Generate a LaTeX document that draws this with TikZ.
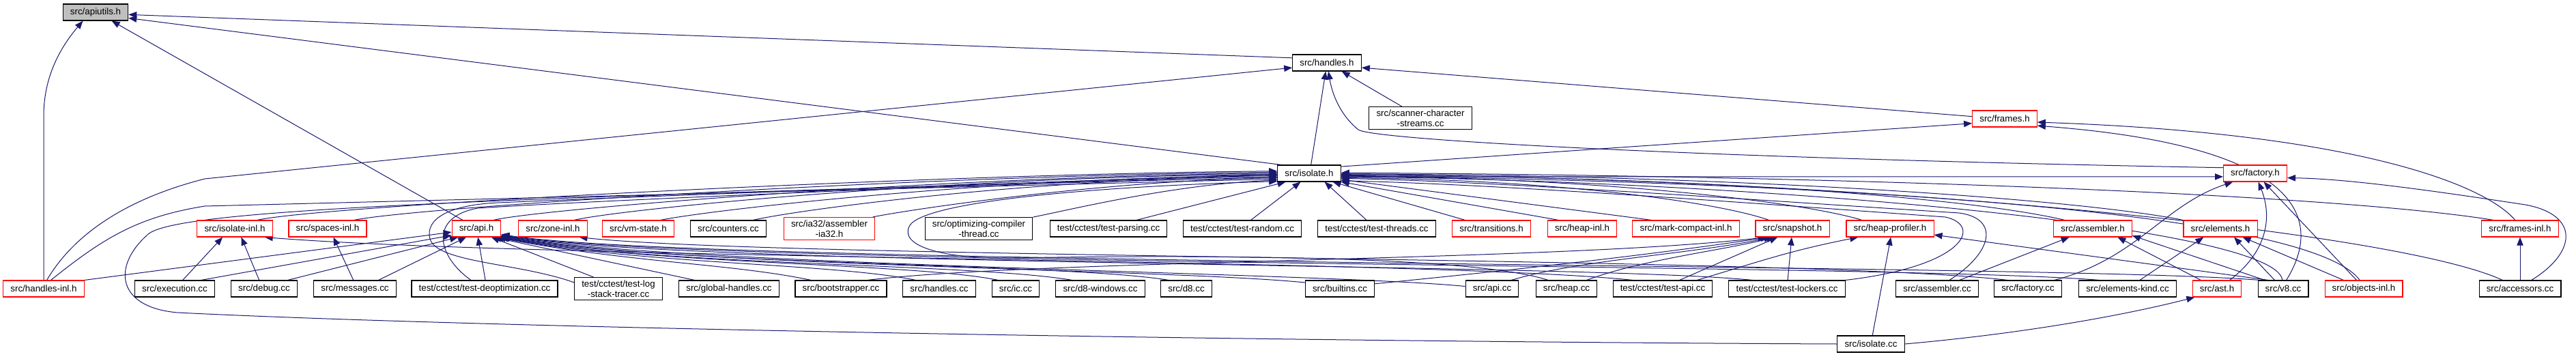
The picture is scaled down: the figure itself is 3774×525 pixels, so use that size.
\documentclass[tikz,border=0pt]{standalone}
\usepackage{fontspec}
\setsansfont{Liberation Sans}
\usetikzlibrary{arrows.meta,backgrounds}
\definecolor{incInk}{HTML}{000000}
\definecolor{incRed}{HTML}{FF0000}
\definecolor{incEdge}{HTML}{191970}
\definecolor{incRoot}{HTML}{BFBFBF}
\tikzset{
  every picture/.style={font=\sffamily\fontsize{10}{11.5}\selectfont, text=incInk},
  inc box/.style={draw=incInk, line width=0.8pt, fill=white, align=center,
    minimum height=18pt, inner xsep=8pt, inner ysep=3pt},
  inc trunc/.style={inc box, draw=incRed},
  inc root/.style={inc box, fill=incRoot},
  inc edge/.style={draw=incEdge, line width=0.75pt,
    -{Triangle[length=9pt,width=7pt]}}
}

\begin{document}
\begin{tikzpicture}[x=0.75pt,y=-0.75pt]
  \useasboundingbox (0,0) rectangle (3774,525);
  \node[inc root] (apiutils) at (140,18) {src/apiutils.h};
  \node[inc box] (handles) at (1944,92) {src/handles.h};
  \node[inc box] (scanner) at (2081,173) {src/scanner-character\\-streams.cc};
  \node[inc trunc] (frames) at (2937,174) {src/frames.h};
  \node[inc box] (isolate) at (1918,254) {src/isolate.h};
  \node[inc trunc] (factory) at (3304,254) {src/factory.h};

  \node[inc trunc] (isolateinl) at (344,335) {src/isolate-inl.h};
  \node[inc trunc] (spacesinl) at (480,335) {src/spaces-inl.h};
  \node[inc trunc] (apih) at (698,335) {src/api.h};
  \node[inc trunc] (zoneinl) at (810,335) {src/zone-inl.h};
  \node[inc trunc] (vmstate) at (935,335) {src/vm-state.h};
  \node[inc box] (counters) at (1067,335) {src/counters.cc};
  \node[inc trunc] (ia32asm) at (1215,335) {src/ia32/assembler\\-ia32.h};
  \node[inc box] (optcomp) at (1434,335) {src/optimizing-compiler\\-thread.cc};
  \node[inc box] (testparsing) at (1624,335) {test/cctest/test-parsing.cc};
  \node[inc box] (testrandom) at (1820,335) {test/cctest/test-random.cc};
  \node[inc box] (testthreads) at (2017,335) {test/cctest/test-threads.cc};
  \node[inc trunc] (transitions) at (2185,335) {src/transitions.h};
  \node[inc trunc] (heapinl) at (2318,335) {src/heap-inl.h};
  \node[inc trunc] (markcompact) at (2470,335) {src/mark-compact-inl.h};
  \node[inc trunc] (snapshot) at (2626,335) {src/snapshot.h};
  \node[inc trunc] (heapprofiler) at (2769,335) {src/heap-profiler.h};
  \node[inc trunc] (assemblerh) at (3066,335) {src/assembler.h};
  \node[inc trunc] (elementsh) at (3253,335) {src/elements.h};
  \node[inc trunc] (framesinl) at (3692,335) {src/frames-inl.h};

  \node[inc trunc] (handlesinl) at (64,423) {src/handles-inl.h};
  \node[inc box] (execution) at (256,423) {src/execution.cc};
  \node[inc box] (debug) at (387,423) {src/debug.cc};
  \node[inc box] (messages) at (520,423) {src/messages.cc};
  \node[inc box] (testdeopt) at (710,423) {test/cctest/test-deoptimization.cc};
  \node[inc box] (testlog) at (906,423) {test/cctest/test-log\\-stack-tracer.cc};
  \node[inc box] (globalhandles) at (1068,423) {src/global-handles.cc};
  \node[inc box] (bootstrapper) at (1232,423) {src/bootstrapper.cc};
  \node[inc box] (handlescc) at (1376,423) {src/handles.cc};
  \node[inc box] (iccc) at (1488,423) {src/ic.cc};
  \node[inc box] (d8win) at (1612,423) {src/d8-windows.cc};
  \node[inc box] (d8cc) at (1738,423) {src/d8.cc};
  \node[inc box] (builtins) at (1963,423) {src/builtins.cc};
  \node[inc box] (apicc) at (2186,423) {src/api.cc};
  \node[inc box] (heapcc) at (2295,423) {src/heap.cc};
  \node[inc box] (testapi) at (2436,423) {test/cctest/test-api.cc};
  \node[inc box] (testlockers) at (2618,423) {test/cctest/test-lockers.cc};
  \node[inc box] (assemblercc) at (2838,423) {src/assembler.cc};
  \node[inc box] (factorycc) at (2971,423) {src/factory.cc};
  \node[inc box] (elementskind) at (3117,423) {src/elements-kind.cc};
  \node[inc trunc] (asth) at (3248,423) {src/ast.h};
  \node[inc box] (v8cc) at (3345,423) {src/v8.cc};
  \node[inc trunc] (objectsinl) at (3463,423) {src/objects-inl.h};
  \node[inc box] (accessors) at (3692,423) {src/accessors.cc};

  \node[inc box] (isolatecc) at (2741,504) {src/isolate.cc};

  \begin{scope}[on background layer]
    \fill[white] (0,0) rectangle (3774,525);
    \draw[inc edge] (handles.172) -- (apiutils.-4);
    \draw[inc edge] (isolate.163) -- (apiutils.-10);
    \draw[inc edge] (apih.148) -- (apiutils.-28);
    \draw[inc edge] (handlesinl.north) -- (64,170) .. controls (64,105) and (95,62) .. (apiutils.214);
    \draw[inc edge] (handlesinl.70) .. controls (110,340) and (190,290) .. (300,262) -- (handles.188);
    \draw[inc edge] (handlesinl.50) .. controls (150,350) and (200,318) .. (300,302) -- (isolate.190);
    \draw[inc edge] (isolate.78) -- (handles.262);
    \draw[inc edge] (scanner.148) -- (handles.-30);
    \draw[inc edge] (frames.176) -- (handles.-8);
    \draw[inc edge] (factory.170) .. controls (2500,232) and (2010,205) .. (1990,190)
      .. controls (1965,170) and (1952,140) .. (handles.-80);
    \draw[inc edge] (isolate.12) -- (frames.188);
    \draw[inc edge] (framesinl.120) .. controls (3640,270) and (3450,195) .. (frames.-6);
    \draw[inc edge] (v8cc.70) .. controls (3400,330) and (3390,215) .. (frames.-12);
    \draw[inc edge] (isolate.-6) -- (factory.186);

    \draw[inc edge] (isolateinl.21) .. controls +(100,-22) and +(-500,4) .. (isolate.176);
    \draw[inc edge] (spacesinl.18) .. controls +(100,-20) and +(-500,4) .. (isolate.178);
    \draw[inc edge] (apih.27) .. controls +(80,-18) and +(-450,3) .. (isolate.180);
    \draw[inc edge] (zoneinl.22) .. controls +(80,-18) and +(-450,2) .. (isolate.182);
    \draw[inc edge] (vmstate.21) .. controls +(80,-16) and +(-400,2) .. (isolate.184);
    \draw[inc edge] (counters.19) .. controls +(70,-16) and +(-350,2) .. (isolate.186);
    \draw[inc edge] (ia32asm.15) .. controls +(60,-12) and +(-250,4) .. (isolate.188);
    \draw[inc edge] (optcomp.12) .. controls +(60,-12) and +(-150,6) .. (isolate.192);
    \draw[inc edge] (testparsing.17) -- (isolate.200);
    \draw[inc edge] (testrandom.45) -- (isolate.225);
    \draw[inc edge] (testthreads.140) -- (isolate.-29);

    \draw[inc edge] (transitions.162) -- (isolate.-20);
    \draw[inc edge] (heapinl.160) -- (isolate.-15);
    \draw[inc edge] (markcompact.166) -- (isolate.-11);
    \draw[inc edge] (snapshot.160) .. controls +(-80,-28) and +(300,2) .. (isolate.-8);
    \draw[inc edge] (heapprofiler.163) .. controls +(-100,-30) and +(350,2) .. (isolate.-5);
    \draw[inc edge] (assemblerh.163) .. controls +(-150,-35) and +(500,2) .. (isolate.-3);
    \draw[inc edge] (elementsh.north west) .. controls +(-150,-30) and +(600,2) .. (isolate.-1);
    \draw[inc edge] (framesinl.162) .. controls +(-250,-40) and +(700,4) .. (isolate.1);
    \draw[inc edge] (accessors.154) .. controls +(-150,-70) and +(800,6) .. (isolate.-2);
    \draw[inc edge] (objectsinl.115) .. controls +(-80,-110) and +(600,8) .. (isolate.-4);
    \draw[inc edge] (v8cc.95) .. controls +(-10,-80) and +(600,6) .. (isolate.-6);
    \draw[inc edge] (testlockers.north east) .. controls (2880,390) and (2905,330) .. (2850,318)
      .. controls (2600,300) and (2200,270) .. (isolate.-13);
    \draw[inc edge] (assemblercc.35) .. controls (2920,370) and (2930,320) .. (2870,312)
      .. controls (2600,295) and (2200,266) .. (isolate.-9);

    \draw[inc edge] (testdeopt.148) .. controls (640,375) and (628,318) .. (700,305)
      .. controls (900,292) and (1500,268) .. (isolate.183);
    \draw[inc edge] (testlog.172) .. controls (760,385) and (640,385) .. (630,350)
      .. controls (622,320) and (660,300) .. (730,297)
      .. controls (1000,285) and (1500,268) .. (isolate.181);
    \draw[inc edge] (isolatecc.west) .. controls (1800,500) and (700,480) .. (260,458)
      .. controls (170,450) and (165,390) .. (215,345)
      .. controls (245,310) and (600,292) .. (isolate.187);
    \draw[inc edge] (heapcc.155) .. controls (2150,372) and (1700,374) .. (1485,378)
      .. controls (1380,380) and (1318,360) .. (1332,332)
      .. controls (1345,300) and (1550,275) .. (isolate.194);

    \draw[inc edge] (handlesinl.north east) -- (apih.188);
    \draw[inc edge] (execution.18) -- (apih.195);
    \draw[inc edge] (debug.20) -- (apih.205);
    \draw[inc edge] (messages.20) -- (apih.220);
    \draw[inc edge] (testdeopt.85) -- (apih.-80);
    \draw[inc edge] (testlog.155) -- (apih.-30);
    \draw[inc edge] (globalhandles.166) -- (apih.-27);
    \draw[inc edge] (bootstrapper.164) .. controls +(-120,-25) and +(200,38) .. (apih.-24);
    \draw[inc edge] (handlescc.160) .. controls +(-120,-25) and +(210,40) .. (apih.-22);
    \draw[inc edge] (iccc.154) .. controls +(-120,-25) and +(220,40) .. (apih.-20);
    \draw[inc edge] (d8win.163) .. controls +(-150,-25) and +(230,42) .. (apih.-19);
    \draw[inc edge] (d8cc.154) .. controls +(-150,-25) and +(240,42) .. (apih.-18);
    \draw[inc edge] (builtins.170) .. controls +(-200,-20) and +(250,44) .. (apih.-17);
    \draw[inc edge] (apicc.175) .. controls +(-200,-20) and +(260,44) .. (apih.-16);
    \draw[inc edge] (testlockers.166) .. controls +(-250,-25) and +(270,45) .. (apih.-15);
    \draw[inc edge] (elementskind.163) .. controls +(-300,-25) and +(280,46) .. (apih.-14);
    \draw[inc edge] (v8cc.160) .. controls +(-300,-25) and +(290,46) .. (apih.-13);

    \draw[inc edge] (bootstrapper.18) .. controls +(250,-30) and +(-300,35) .. (snapshot.198);
    \draw[inc edge] (builtins.8) .. controls +(150,-15) and +(-200,30) .. (snapshot.200);
    \draw[inc edge] (apicc.24) .. controls +(100,-30) and +(-120,25) .. (snapshot.203);
    \draw[inc edge] (heapcc.23) .. controls +(80,-30) and +(-80,20) .. (snapshot.206);
    \draw[inc edge] (testapi.27) -- (snapshot.210);
    \draw[inc edge] (testlockers.85) -- (snapshot.-95);

    \draw[inc edge] (testapi.14) .. controls +(100,-30) and +(-100,20) .. (heapprofiler.195);
    \draw[inc edge] (isolatecc.80) -- (heapprofiler.-85);
    \draw[inc edge] (v8cc.150) -- (heapprofiler.-8);

    \draw[inc edge] (assemblercc.21) -- (assemblerh.200);
    \draw[inc edge] (asth.152) -- (assemblerh.-19);
    \draw[inc edge] (v8cc.155) -- (assemblerh.-10);

    \draw[inc edge] (elementskind.35) -- (elementsh.207);
    \draw[inc edge] (v8cc.135) -- (elementsh.-32);
    \draw[inc edge] (objectsinl.157) -- (elementsh.-21);

    \draw[inc edge] (factorycc.18) .. controls (3130,380) and (3170,300) .. (factory.201);
    \draw[inc edge] (asth.34) .. controls (3320,370) and (3330,320) .. (factory.-70);
    \draw[inc edge] (objectsinl.130) -- (factory.-45);
    \draw[inc edge] (accessors.37) .. controls (3775,370) and (3780,315) .. (3700,300)
      .. controls (3600,285) and (3450,262) .. (factory.-8);
    \draw[inc edge] (accessors.north) -- (framesinl.south);
    \draw[inc edge] (isolatecc.east) .. controls (2950,490) and (3100,465) .. (asth.201);

    \draw[inc edge] (testapi.164) .. controls +(-300,-31) and +(400,32) .. (isolateinl.-16);
    \draw[inc edge] (factorycc.157) .. controls +(-300,-35) and +(300,32) .. (zoneinl.-18);
    \draw[inc edge] (execution.47) -- (isolateinl.215);
    \draw[inc edge] (debug.120) -- (isolateinl.-53);
    \draw[inc edge] (messages.100) -- (spacesinl.-56);
  \end{scope}
\end{tikzpicture}
\end{document}
